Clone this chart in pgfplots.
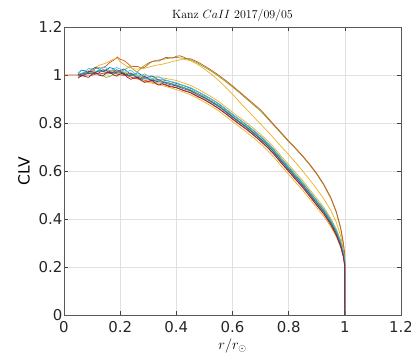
\documentclass[border=0pt]{standalone}
\usepackage{fontspec}
\usepackage{pgfplots}
\pgfplotsset{compat=1.18}
\newfontfamily\dv{DejaVu Sans}
\definecolor{mblue}{rgb}{0,0.447,0.741}
\definecolor{morange}{rgb}{0.850,0.325,0.098}
\definecolor{myellow}{rgb}{0.929,0.694,0.125}
\definecolor{mpurple}{rgb}{0.494,0.184,0.556}
\definecolor{mgreen}{rgb}{0.466,0.674,0.188}
\definecolor{mcyan}{rgb}{0.301,0.745,0.933}
\definecolor{mdred}{rgb}{0.635,0.078,0.184}
\begin{document}
\begin{tikzpicture}
\begin{axis}[
  scale only axis, width=337bp, height=288bp,
  xmin=0, xmax=1.2, ymin=0, ymax=1.2,
  xtick={0,0.2,0.4,0.6,0.8,1,1.2},
  ytick={0,0.2,0.4,0.6,0.8,1,1.2},
  xticklabels={0,0.2,0.4,0.6,0.8,1,1.2},
  yticklabels={0,0.2,0.4,0.6,0.8,1,1.2},
  grid=major,
  grid style={black!12, line width=0.5bp},
  axis line style={black!65, line width=0.6bp},
  tick style={black!75, line width=0.6bp},
  tick align=inside, major tick length=4bp,
  tick label style={font=\dv\fontsize{15}{15}\selectfont, text=black!85},
  xticklabel style={yshift=-3bp},
  yticklabel style={xshift=2bp},
  every axis x label/.style={at={(axis description cs:0.5,0)}, anchor=center, yshift=-31bp},
  every axis y label/.style={at={(axis description cs:0,0.5)}, xshift=-40bp, anchor=center, rotate=90},
  every axis title/.style={at={(axis description cs:0.5,1)}, anchor=center, yshift=11bp},
  xlabel={\fontsize{14}{14}\selectfont $r/r_\odot$},
  ylabel={\dv\fontsize{15.5}{15.5}\selectfont CLV},
  title={\fontsize{12}{12}\selectfont Kanz $CaII$ 2017/09/05},
  every axis plot/.append style={line width=0.7bp, line join=round},
]
% upper green
\addplot[mgreen] coordinates {(0.05,0.997) (0.075,1.003) (0.1,1.01) (0.125,1.005) (0.15,0.99) (0.165,0.995) (0.18,1.005) (0.2,1.01) (0.215,1.022) (0.235,1.035) (0.25,1.02) (0.26,1.012) (0.275,1.03) (0.3,1.05) (0.325,1.06) (0.35,1.065) (0.375,1.07) (0.4,1.073) (0.425,1.07) (0.45,1.063) (0.475,1.05) (0.5,1.033) (0.525,1.015) (0.55,0.995) (0.575,0.973) (0.6,0.95) (0.625,0.926) (0.65,0.9) (0.675,0.875) (0.7,0.85) (0.725,0.818) (0.75,0.786) (0.775,0.754) (0.8,0.722) (0.825,0.692) (0.85,0.66) (0.875,0.625) (0.9,0.586) (0.925,0.541) (0.95,0.486) (0.97,0.426) (0.985,0.36) (0.995,0.29) (1.0,0.24) (1.0,0)};
% upper orange
\addplot[morange] coordinates {(0.0,1.0) (0.05,1.0) (0.075,1.008) (0.0875,1.005) (0.1,1.015) (0.1125,1.028) (0.125,1.03) (0.1375,1.029) (0.15,1.038) (0.1625,1.052) (0.175,1.06) (0.19,1.075) (0.2,1.065) (0.2125,1.061) (0.225,1.05) (0.2375,1.037) (0.25,1.035) (0.2625,1.036) (0.275,1.028) (0.2875,1.032) (0.3,1.045) (0.3125,1.056) (0.325,1.058) (0.3375,1.058) (0.35,1.066) (0.3625,1.073) (0.375,1.072) (0.3875,1.071) (0.4,1.078) (0.4125,1.080) (0.425,1.075) (0.4375,1.068) (0.45,1.068) (0.475,1.055) (0.5,1.038) (0.525,1.02) (0.55,1.0) (0.575,0.978) (0.6,0.955) (0.625,0.93) (0.65,0.905) (0.675,0.88) (0.7,0.855) (0.725,0.823) (0.75,0.79) (0.775,0.758) (0.8,0.725) (0.825,0.695) (0.85,0.663) (0.875,0.628) (0.9,0.59) (0.925,0.545) (0.95,0.49) (0.97,0.43) (0.985,0.365) (0.995,0.30) (1.0,0.25) (1.0,0)};
% upper yellow
\addplot[myellow] coordinates {(0.05,1.003) (0.075,1.012) (0.1,1.025) (0.125,1.04) (0.15,1.05) (0.175,1.065) (0.19,1.07) (0.2,1.055) (0.225,1.035) (0.25,1.025) (0.275,1.025) (0.3,1.032) (0.325,1.04) (0.35,1.045) (0.375,1.052) (0.4,1.06) (0.425,1.066) (0.45,1.06) (0.475,1.045) (0.5,1.025) (0.525,1.003) (0.55,0.978) (0.575,0.95) (0.6,0.92) (0.625,0.888) (0.65,0.857) (0.675,0.826) (0.7,0.796) (0.725,0.765) (0.75,0.733) (0.775,0.70) (0.8,0.668) (0.825,0.635) (0.85,0.600) (0.875,0.563) (0.9,0.525) (0.925,0.484) (0.95,0.436) (0.97,0.385) (0.985,0.33) (0.995,0.27) (1.0,0.22) (1.0,0)};
% mid yellow
\addplot[myellow] coordinates {(0.05,1.003) (0.075,1.008) (0.1,1.015) (0.125,1.013) (0.15,1.02) (0.175,1.017) (0.2,1.015) (0.225,1.008) (0.25,1.003) (0.275,0.999) (0.3,0.996) (0.325,0.993) (0.35,0.988) (0.375,0.983) (0.4,0.977) (0.425,0.967) (0.45,0.957) (0.475,0.942) (0.5,0.926) (0.525,0.909) (0.55,0.890) (0.575,0.868) (0.6,0.845) (0.625,0.823) (0.65,0.802) (0.675,0.778) (0.7,0.753) (0.725,0.726) (0.75,0.695) (0.775,0.660) (0.8,0.627) (0.825,0.593) (0.85,0.560) (0.875,0.523) (0.9,0.486) (0.925,0.449) (0.95,0.403) (0.97,0.357) (0.985,0.310) (0.995,0.262) (1.0,0.225) (1.0,0)};
% lower yellow
\addplot[myellow] coordinates {(0.05,1.001) (0.075,1.011) (0.1,1.007) (0.125,1.019) (0.15,1.010) (0.175,1.016) (0.2,1.003) (0.225,0.998) (0.25,0.988) (0.275,0.978) (0.3,0.969) (0.325,0.963) (0.35,0.956) (0.375,0.948) (0.4,0.939) (0.425,0.929) (0.45,0.918) (0.475,0.903) (0.5,0.887) (0.525,0.870) (0.55,0.851) (0.575,0.829) (0.6,0.806) (0.625,0.784) (0.65,0.762) (0.675,0.738) (0.7,0.713) (0.725,0.685) (0.75,0.654) (0.775,0.619) (0.8,0.586) (0.825,0.552) (0.85,0.519) (0.875,0.483) (0.9,0.447) (0.925,0.411) (0.95,0.368) (0.97,0.325) (0.985,0.283) (0.995,0.242) (1.0,0.2) (1.0,0)};
% bundle
\addplot[mblue] coordinates {(0.05,1.007) (0.0625,1.020) (0.075,1.017) (0.0875,1.010) (0.1,1.023) (0.1125,1.032) (0.125,1.025) (0.1375,1.015) (0.15,1.021) (0.1625,1.031) (0.175,1.027) (0.1875,1.013) (0.2,1.019) (0.2125,1.025) (0.225,1.015) (0.2375,1.002) (0.25,1.003) (0.2625,1.010) (0.275,1.000) (0.2875,0.988) (0.3,0.991) (0.3125,0.996) (0.325,0.988) (0.3375,0.978) (0.35,0.980) (0.375,0.974) (0.4,0.965) (0.425,0.956) (0.45,0.945) (0.475,0.931) (0.5,0.915) (0.525,0.899) (0.55,0.880) (0.575,0.858) (0.6,0.835) (0.625,0.814) (0.65,0.792) (0.675,0.768) (0.7,0.743) (0.725,0.716) (0.75,0.685) (0.775,0.650) (0.8,0.617) (0.825,0.583) (0.85,0.550) (0.875,0.513) (0.9,0.476) (0.925,0.440) (0.95,0.395) (0.97,0.350) (0.985,0.305) (0.995,0.260) (1.0,0.22) (1.0,0)};
\addplot[morange] coordinates {(0.05,0.991) (0.075,1.000) (0.1,0.999) (0.125,1.008) (0.15,1.004) (0.175,1.008) (0.2,1.000) (0.225,0.997) (0.25,0.986) (0.275,0.982) (0.3,0.974) (0.325,0.968) (0.35,0.965) (0.375,0.955) (0.4,0.948) (0.425,0.937) (0.45,0.928) (0.475,0.913) (0.5,0.898) (0.525,0.881) (0.55,0.862) (0.575,0.841) (0.6,0.818) (0.625,0.796) (0.65,0.775) (0.675,0.751) (0.7,0.726) (0.725,0.699) (0.75,0.668) (0.775,0.633) (0.8,0.600) (0.825,0.566) (0.85,0.533) (0.875,0.496) (0.9,0.459) (0.925,0.423) (0.95,0.378) (0.97,0.333) (0.985,0.288) (0.995,0.243) (1.0,0.2) (1.0,0)};
\addplot[mpurple] coordinates {(0.05,1.004) (0.0625,0.996) (0.075,1.002) (0.0875,1.015) (0.1,1.014) (0.1125,1.004) (0.125,1.009) (0.1375,1.022) (0.15,1.020) (0.1625,1.008) (0.175,1.011) (0.1875,1.022) (0.2,1.015) (0.2125,1.001) (0.225,1.002) (0.2375,1.009) (0.25,0.999) (0.2625,0.986) (0.275,0.988) (0.2875,0.995) (0.3,0.986) (0.3125,0.975) (0.325,0.978) (0.3375,0.981) (0.35,0.972) (0.375,0.966) (0.4,0.956) (0.425,0.948) (0.45,0.936) (0.475,0.923) (0.5,0.907) (0.525,0.890) (0.55,0.872) (0.575,0.850) (0.6,0.827) (0.625,0.805) (0.65,0.784) (0.675,0.760) (0.7,0.735) (0.725,0.708) (0.75,0.677) (0.775,0.642) (0.8,0.609) (0.825,0.575) (0.85,0.542) (0.875,0.505) (0.9,0.468) (0.925,0.432) (0.95,0.387) (0.97,0.342) (0.985,0.297) (0.995,0.252) (1.0,0.21) (1.0,0)};
\addplot[mgreen] coordinates {(0.05,0.998) (0.075,1.008) (0.1,1.006) (0.125,1.016) (0.15,1.011) (0.175,1.018) (0.2,1.012) (0.225,1.006) (0.25,0.997) (0.275,0.992) (0.3,0.984) (0.325,0.980) (0.35,0.974) (0.375,0.967) (0.4,0.959) (0.425,0.949) (0.45,0.939) (0.475,0.924) (0.5,0.909) (0.525,0.892) (0.55,0.874) (0.575,0.852) (0.6,0.829) (0.625,0.807) (0.65,0.786) (0.675,0.762) (0.7,0.737) (0.725,0.710) (0.75,0.679) (0.775,0.644) (0.8,0.611) (0.825,0.577) (0.85,0.544) (0.875,0.507) (0.9,0.470) (0.925,0.434) (0.95,0.389) (0.97,0.344) (0.985,0.299) (0.995,0.254) (1.0,0.215) (1.0,0)};
\addplot[mcyan] coordinates {(0.05,1.012) (0.0625,1.004) (0.075,1.016) (0.0875,1.027) (0.1,1.026) (0.1125,1.015) (0.125,1.021) (0.1375,1.033) (0.15,1.030) (0.1625,1.018) (0.175,1.023) (0.1875,1.031) (0.2,1.025) (0.2125,1.012) (0.225,1.014) (0.2375,1.020) (0.25,1.009) (0.2625,0.996) (0.275,0.999) (0.2875,1.005) (0.3,0.996) (0.3125,0.984) (0.325,0.988) (0.3375,0.993) (0.35,0.984) (0.375,0.974) (0.4,0.968) (0.425,0.957) (0.45,0.948) (0.475,0.932) (0.5,0.917) (0.525,0.900) (0.55,0.882) (0.575,0.860) (0.6,0.837) (0.625,0.815) (0.65,0.794) (0.675,0.770) (0.7,0.745) (0.725,0.718) (0.75,0.687) (0.775,0.652) (0.8,0.619) (0.825,0.585) (0.85,0.552) (0.875,0.515) (0.9,0.478) (0.925,0.442) (0.95,0.397) (0.97,0.352) (0.985,0.307) (0.995,0.262) (1.0,0.225) (1.0,0)};
\addplot[mblue] coordinates {(0.05,0.999) (0.075,1.009) (0.1,1.004) (0.125,1.018) (0.15,1.012) (0.175,1.009) (0.2,1.013) (0.225,0.999) (0.25,0.996) (0.275,0.985) (0.3,0.983) (0.325,0.974) (0.35,0.970) (0.375,0.961) (0.4,0.954) (0.425,0.943) (0.45,0.934) (0.475,0.918) (0.5,0.904) (0.525,0.887) (0.55,0.869) (0.575,0.847) (0.6,0.824) (0.625,0.802) (0.65,0.781) (0.675,0.757) (0.7,0.732) (0.725,0.705) (0.75,0.674) (0.775,0.639) (0.8,0.606) (0.825,0.572) (0.85,0.539) (0.875,0.502) (0.9,0.465) (0.925,0.429) (0.95,0.384) (0.97,0.339) (0.985,0.294) (0.995,0.249) (1.0,0.21) (1.0,0)};
\addplot[mdred] coordinates {(0.05,0.987) (0.0625,0.998) (0.075,0.994) (0.0875,0.990) (0.1,1.003) (0.1125,1.010) (0.125,0.999) (0.1375,0.996) (0.15,1.008) (0.1625,1.014) (0.175,1.001) (0.1875,0.995) (0.2,1.005) (0.2125,1.008) (0.225,0.991) (0.2375,0.982) (0.25,0.988) (0.2625,0.990) (0.275,0.977) (0.2875,0.969) (0.3,0.974) (0.3125,0.978) (0.325,0.966) (0.3375,0.958) (0.35,0.963) (0.375,0.952) (0.4,0.947) (0.425,0.935) (0.45,0.926) (0.475,0.910) (0.5,0.896) (0.525,0.879) (0.55,0.860) (0.575,0.839) (0.6,0.816) (0.625,0.794) (0.65,0.773) (0.675,0.749) (0.7,0.724) (0.725,0.697) (0.75,0.666) (0.775,0.631) (0.8,0.598) (0.825,0.564) (0.85,0.531) (0.875,0.494) (0.9,0.457) (0.925,0.421) (0.95,0.376) (0.97,0.331) (0.985,0.286) (0.995,0.241) (1.0,0.2) (1.0,0)};
\end{axis}
\pgfresetboundingbox
\useasboundingbox ([xshift=-64bp,yshift=-48bp]current axis.south west) rectangle ([xshift=10bp,yshift=27bp]current axis.north east);
\end{tikzpicture}
\end{document}
